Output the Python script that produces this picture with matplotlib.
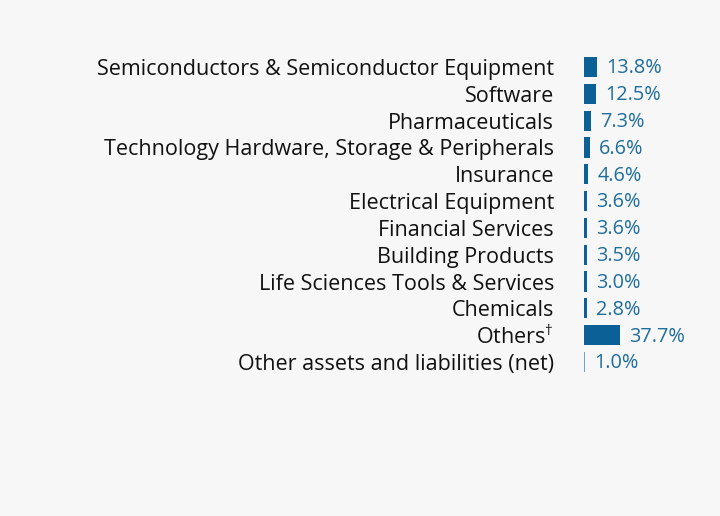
import matplotlib.pyplot as plt

# sector weights (%)
sectors = [
    "Semiconductors & Semiconductor Equipment",
    "Software",
    "Pharmaceuticals",
    "Technology Hardware, Storage & Peripherals",
    "Insurance",
    "Electrical Equipment",
    "Financial Services",
    "Building Products",
    "Life Sciences Tools & Services",
    "Chemicals",
    "Others$^{\\dagger}$",
    "Other assets and liabilities (net)",
]
weights = [13.8, 12.5, 7.3, 6.6, 4.6, 3.6, 3.6, 3.5, 3.0, 2.8, 37.7, 1.0]

plt.rcParams['font.family'] = ['Open Sans', 'DejaVu Sans']
plt.rcParams['mathtext.fontset'] = 'custom'
plt.rcParams['mathtext.rm'] = 'Open Sans'
bg = '#f7f7f7'
dark = '#0b6196'
light = '#6aa3cc'

fig = plt.figure(figsize=(7.2, 5.16), dpi=100, facecolor=bg)
ax = fig.add_axes([584 / 720, 0.2725, 100 / 720, 0.6236])
ax.set_facecolor(bg)

colors = [dark] * (len(weights) - 1) + [light]
y = list(range(len(weights)))
ax.barh(y, weights, height=0.75, color=colors)

for yi, w in zip(y, weights):
    ax.annotate(f"{w:.1f}%", (w, yi), xytext=(6.5, -1), textcoords='offset points',
                va='center', ha='left', fontsize=14.3, color='#1f6d9c')

ax.set_xlim(0, 104)
ax.set_ylim(len(weights) - 0.5, -0.5)
ax.set_yticks(y)
ax.set_yticklabels(sectors, fontsize=15.5, color='#111111')
ax.tick_params(axis='y', length=0, pad=21.6)
ax.set_xticks([])
for s in ax.spines.values():
    s.set_visible(False)

fig.savefig('out.png', dpi=100, facecolor=bg)
